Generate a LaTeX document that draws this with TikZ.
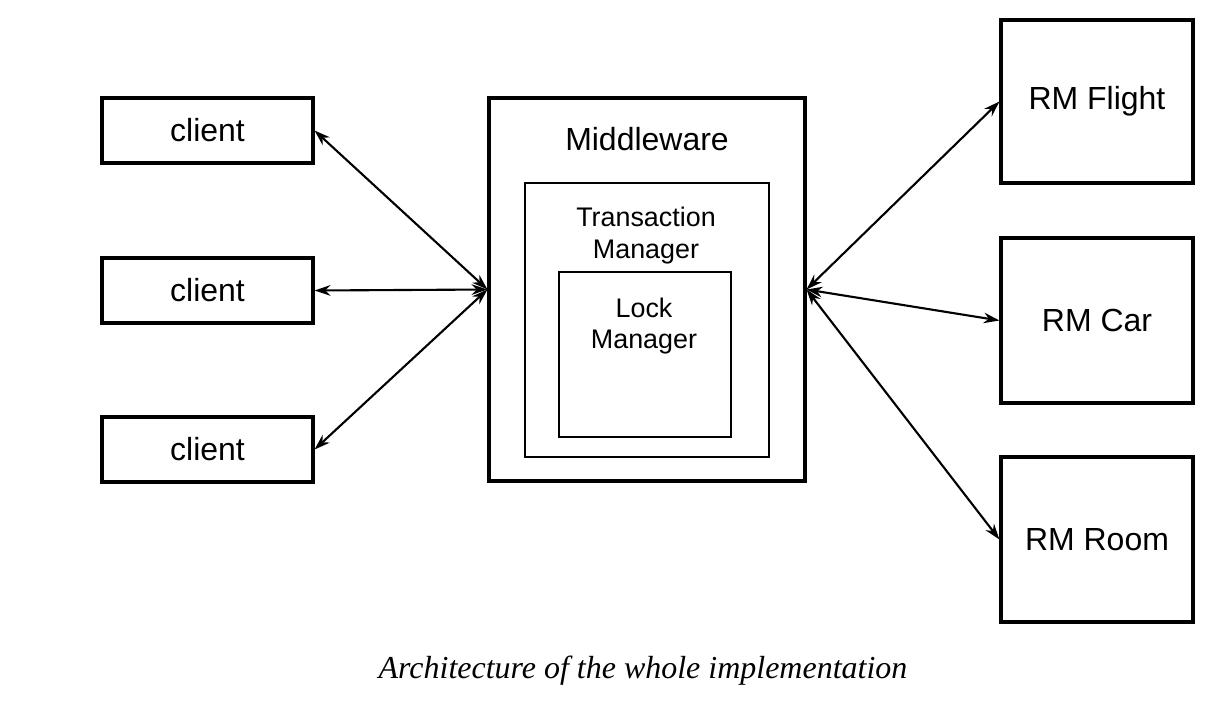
\documentclass[tikz,border=0pt]{standalone}
\usepackage{fontspec}
\setmainfont{Liberation Sans}
\newfontfamily\capfont{Liberation Serif}
\usetikzlibrary{arrows.meta}

\begin{document}
\begin{tikzpicture}[x=0.02cm,y=-0.02cm,>={Stealth[length=9pt,width=6pt]}]
        \useasboundingbox (0,0) rectangle (1228,708);

        \tikzset{
            outerbox/.style={draw, line width=1.8pt, inner sep=0pt},
            innerbox/.style={draw, line width=1pt, inner sep=0pt},
            boxtext/.style={font=\fontsize{18.2}{21}\selectfont, align=center},
            smalltext/.style={font=\fontsize{15.3}{18}\selectfont, align=center},
            link/.style={<->, line width=1.2pt}
        }

        % Clients
        \node[outerbox, minimum width=4.22cm, minimum height=1.3cm, boxtext] (c1) at (207.5,130.5) {client};
        \node[outerbox, minimum width=4.22cm, minimum height=1.3cm, boxtext] (c2) at (207.5,290.5) {client};
        \node[outerbox, minimum width=4.22cm, minimum height=1.3cm, boxtext] (c3) at (207.5,449.5) {client};

        % Middleware
        \node[outerbox, minimum width=6.32cm, minimum height=7.66cm] (mw) at (647,289.5) {};
        \node[boxtext] (mwtext) at (647,139) {Middleware};
        \node[innerbox, minimum width=4.88cm, minimum height=5.48cm] (tm) at (647,320) {};
        \node[smalltext] (tmtext) at (646,235.5) {Transaction\\Manager};
        \node[innerbox, minimum width=3.44cm, minimum height=3.3cm] (lm) at (645,354.5) {};
        \node[smalltext] (lmtext) at (644,326) {Lock\\Manager};

        % Resource managers
        \node[outerbox, minimum width=3.84cm, minimum height=3.26cm, boxtext] (flight) at (1097,101.5) {\raisebox{-3pt}{RM Flight}};
        \node[outerbox, minimum width=3.84cm, minimum height=3.3cm, boxtext] (car) at (1097,320.5) {RM Car};
        \node[outerbox, minimum width=3.84cm, minimum height=3.3cm, boxtext] (room) at (1097,539.5) {RM Room};

        % Links
        \draw[link] (mw.west) -- (c1.east);
        \draw[link] (mw.west) -- (c2.east);
        \draw[link] (mw.west) -- (c3.east);
        \draw[link] (mw.east) -- (flight.west);
        \draw[link] (mw.east) -- (car.west);
        \draw[link] (mw.east) -- (room.west);

        % Caption
        \node[font=\capfont\itshape\fontsize{18.2}{21}\selectfont] (caption) at (643,671) {Architecture of the whole implementation};
\end{tikzpicture}
\end{document}
